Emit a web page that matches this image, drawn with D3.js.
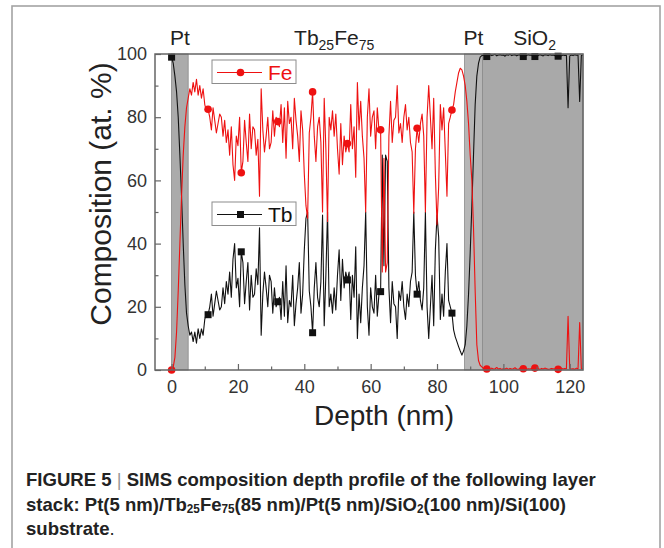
<!DOCTYPE html>
<html><head><meta charset="utf-8">
<script src="https://cdn.jsdelivr.net/npm/d3@7"></script>
<style>
body{margin:0;background:#fff}
svg{display:block}
text{font-family:"Liberation Sans",Arial,Helvetica,sans-serif}
</style>
</head><body>
<svg id="chart" width="664" height="548"></svg>
<script>
// ---------------- data ----------------
const depthStep = 0.5; // nm between successive SIMS points (depth = index * step)

const feValues = [
  0, 1, 4, 12, 25, 40, 55, 68, 77, 83,
  86, 89, 87, 91, 88, 92, 87, 90, 86, 89,
  84, 82, 82.5, 80, 76, 83, 79, 75, 78, 81,
  80, 74, 79, 72, 76, 68, 77, 65, 60, 74,
  71, 80, 62.4, 66, 79, 72, 66, 81, 70, 77,
  76, 68, 73, 55, 89, 76, 69, 74, 80, 70,
  72, 82, 74, 80, 78.6, 77, 84, 72, 83, 67,
  85, 78, 80, 70, 86, 79, 74, 66, 82, 76,
  62, 52, 48, 75, 80, 88, 74, 66, 77, 80,
  72, 50, 86, 70, 47, 80, 76, 82, 74, 81,
  70, 62, 78, 65, 74, 69, 71.7, 69, 84, 70,
  77, 61, 91, 76, 85, 74, 67, 50, 80, 89,
  74, 80, 82, 70, 83, 76, 76, 31, 67, 31,
  34, 74, 85, 72, 79, 80, 90, 75, 78, 72,
  80, 84, 76, 80, 72, 69, 49.6, 70, 76.5, 72,
  78, 81, 74, 50, 80, 90, 80, 70, 86, 62,
  46, 58, 84, 76, 83, 69, 55, 78, 80, 82.3,
  84, 88, 91, 94, 95.5, 95, 93, 90, 85, 78,
  68, 60, 45, 25, 8, 3, 1.5, 1, 0.5, 0.4,
  0.3, 0.5, 0.2, 0.6, 0.3, 0.4, 0.8, 0.3, 0.5, 0.2,
  0.4, 0.3, 0.6, 0.2, 0.5, 0.3, 0.4, 0.7, 0.3, 0.2,
  0.5, 0.3, 0.4, 0.6, 0.2, 0.4, 0.3, 0.5, 0.3, 0.6,
  0.3, 0.4, 0.2, 0.5, 0.3, 0.6, 0.4, 0.2, 0.3, 0.5,
  0.4, 0.3, 0.5, 0.2, 0.4, 0.6, 0.3, 0.5, 0.4, 17,
  0.5, 0.3, 0.4, 0.2, 0.6, 0.3, 15, 0.4, 0.3
];

const tbValues = [
  99, 97, 93, 88, 80, 68, 55, 40, 27, 18,
  14, 11, 12, 9, 12, 8.5, 13, 10, 13, 11,
  16, 18, 17.5, 20, 24, 17, 21, 25, 22, 19,
  20, 26, 21, 28, 24, 31, 23, 35, 40, 26,
  29, 20, 37.4, 34, 21, 28, 34, 19, 30, 23,
  24, 32, 27, 45, 11, 24, 31, 26, 20, 30,
  28, 18, 26, 20, 21.6, 23, 16, 28, 17, 33,
  15, 22, 20, 30, 14, 21, 26, 34, 18, 24,
  38, 48, 50, 25, 20, 11.8, 26, 34, 23, 20,
  28, 49, 14, 30, 50, 20, 24, 18, 26, 19,
  30, 38, 22, 35, 26, 31, 28.5, 31, 16, 30,
  23, 39, 10, 24, 15, 26, 33, 50, 20, 11,
  26, 20, 18, 30, 17, 24, 24.8, 68, 33, 68,
  66, 26, 15, 28, 21, 20, 10, 25, 22, 28,
  20, 16, 24, 20, 28, 31, 50, 30, 24, 28,
  22, 19, 26, 50, 20, 10, 20, 30, 14, 38,
  49, 42, 16, 24, 17, 31, 40, 22, 20, 18,
  12.7, 10.5, 9, 7.4, 6, 4.7, 6, 8, 14, 24,
  37, 52, 68, 84, 93, 97, 99, 99.5, 99.6, 99.8,
  99.2, 99.6, 99.8, 99.5, 99.7, 99.9, 99.4, 99.7, 99.8, 99.6,
  99.7, 99.3, 99.8, 99.6, 99.9, 99.5, 99.7, 99.8, 99.4, 99.7,
  99.8, 99.6, 99.2, 99.7, 99.5, 99.8, 99.6, 99.7, 99.3, 99.2,
  99.7, 99.5, 99.8, 99.6, 99.4, 99.8, 99.7, 99.5, 99.8, 99.6,
  99.7, 99.5, 99.8, 99.3, 99.6, 99.4, 99.7, 99.5, 99.6, 83,
  99.4, 99.7, 99.5, 99.8, 99.6, 99.7, 85, 99.5, 99.6
];

const markerDepths = [0, 11, 21, 32, 42.5, 53, 63, 74, 84.5, 95, 106, 109.5, 116.5];

const xTicks = [0, 20, 40, 60, 80, 100, 120];
const xMinorTicks = [10, 30, 50, 70, 90, 110];
const yTicks = [0, 20, 40, 60, 80, 100];
const yMinorTicks = [10, 30, 50, 70, 90];

const bandStarts = [0, 88.3, 93.7];
const bandEnds   = [5, 93.7, 124];
const bandKinds  = ["Pt", "Pt", "SiO2"];

const layerLabels = [
  {depth: 2.5, parts: [["Pt", false]]},
  {depth: 49, parts: [["Tb", false], ["25", true], ["Fe", false], ["75", true]]},
  {depth: 91, parts: [["Pt", false]]},
  {depth: 109.4, parts: [["SiO", false], ["2", true]]}
];

const xTitle = "Depth (nm)";
const yTitle = "Composition (at. %)";

const captionLines = [
  [["FIGURE 5 ", "b"], ["|", "bar"], [" SIMS composition depth profile of the following layer", "b"]],
  [["stack: Pt(5 nm)/Tb", "b"], ["25", "sub"], ["Fe", "b"], ["75", "sub"], ["(85 nm)/Pt(5 nm)/SiO", "b"], ["2", "sub"], ["(100 nm)/Si(100)", "b"]],
  [["substrate", "b"], [".", "n"]]
];

// ---------------- drawing ----------------
const svg = d3.select("#chart");
const W = 664, H = 548;
const plot = {left: 155, right: 583, top: 54, bottom: 370};

const x = d3.scaleLinear().domain([-5, 124]).range([plot.left, plot.right]);
const y = d3.scaleLinear().domain([0, 100]).range([plot.bottom, plot.top]);

// outer figure frame
svg.append("rect").attr("x", 12).attr("y", 6).attr("width", 648).attr("height", 570)
  .attr("fill", "none").attr("stroke", "#a3a3a3").attr("stroke-width", 1.6);

// layer bands
const bandFill = {"Pt": "#ababab", "SiO2": "#a9a9a9"};
bandStarts.forEach((s, i) => {
  svg.append("rect")
    .attr("x", x(s)).attr("y", plot.top)
    .attr("width", x(bandEnds[i]) - x(s)).attr("height", plot.bottom - plot.top)
    .attr("fill", i === 1 ? "#b6b6b6" : bandFill[bandKinds[i]])
    .attr("stroke", "#8a8a8a").attr("stroke-width", 0.8);
});

const fePts = feValues.map((v, i) => [i * depthStep, v]);
const tbPts = tbValues.map((v, i) => [i * depthStep, v]);

const line = d3.line().x(d => x(d[0])).y(d => y(d[1]));

svg.append("path").datum(tbPts).attr("d", line)
  .attr("fill", "none").attr("stroke", "#111").attr("stroke-width", 1.1).attr("stroke-linejoin", "round");
svg.append("path").datum(fePts).attr("d", line)
  .attr("fill", "none").attr("stroke", "#ee1111").attr("stroke-width", 1.1).attr("stroke-linejoin", "round");

const idx = d => Math.round(d / depthStep);
// Tb markers (squares)
svg.append("g").selectAll("rect").data(markerDepths).join("rect")
  .attr("x", d => x(idx(d) * depthStep) - 3.5)
  .attr("y", d => y(tbValues[idx(d)]) - 3.5)
  .attr("width", 7).attr("height", 7).attr("fill", "#111");
// Fe markers (circles)
svg.append("g").selectAll("circle").data(markerDepths).join("circle")
  .attr("cx", d => x(idx(d) * depthStep))
  .attr("cy", d => y(feValues[idx(d)]))
  .attr("r", 3.8).attr("fill", "#ee1111");

// axes
const axisColor = "#666";
const styleAxis = g => {
  g.select(".domain").remove();
  g.selectAll("line").attr("stroke", axisColor).attr("stroke-width", 1.2);
  g.selectAll("text").attr("fill", "#333").attr("font-size", 18)
    .attr("font-family", '"Liberation Sans", Arial, sans-serif');
};
svg.append("g").attr("transform", `translate(0,${plot.bottom})`)
  .call(d3.axisBottom(x).tickValues(xTicks).tickSize(-6).tickPadding(10).tickFormat(d3.format("d")))
  .call(styleAxis);
svg.append("g").attr("transform", `translate(0,${plot.bottom})`)
  .call(d3.axisBottom(x).tickValues(xMinorTicks).tickSize(-3.5).tickFormat(""))
  .call(styleAxis);
svg.append("g").attr("transform", `translate(${plot.left},0)`)
  .call(d3.axisLeft(y).tickValues(yTicks).tickSize(-6).tickPadding(8).tickFormat(d3.format("d")))
  .call(styleAxis);
svg.append("g").attr("transform", `translate(${plot.left},0)`)
  .call(d3.axisLeft(y).tickValues(yMinorTicks).tickSize(-3.5).tickFormat(""))
  .call(styleAxis);

// plot frame
svg.append("rect").attr("x", plot.left).attr("y", plot.top)
  .attr("width", plot.right - plot.left).attr("height", plot.bottom - plot.top)
  .attr("fill", "none").attr("stroke", axisColor).attr("stroke-width", 1.5);

// layer labels above the plot
layerLabels.forEach(L => {
  const t = svg.append("text").attr("x", x(L.depth)).attr("y", 45)
    .attr("text-anchor", "middle").attr("font-size", 21).attr("fill", "#222");
  L.parts.forEach(([s, sub]) => {
    const ts = t.append("tspan").text(s);
    if (sub) ts.attr("font-size", 14).attr("baseline-shift", "-5");
  });
});

// axis titles
svg.append("text").attr("x", 384).attr("y", 425).attr("text-anchor", "middle")
  .attr("font-size", 28).attr("fill", "#222").text(xTitle);
svg.append("text").attr("transform", "translate(111,194) rotate(-90)").attr("text-anchor", "middle")
  .attr("font-size", 30).attr("fill", "#222").text(yTitle);

// legends
function legend(x0, y0, label, color, shape) {
  const g = svg.append("g").attr("transform", `translate(${x0},${y0})`);
  g.append("rect").attr("x", 0).attr("y", 0).attr("width", 84).attr("height", 23.5)
    .attr("fill", "#fff").attr("stroke", "#8c8c8c").attr("stroke-width", 1);
  g.append("line").attr("x1", 5).attr("x2", 50).attr("y1", 12.5).attr("y2", 12.5)
    .attr("stroke", color).attr("stroke-width", 1.2);
  if (shape === "circle") g.append("circle").attr("cx", 28.5).attr("cy", 12.5).attr("r", 3.8).attr("fill", color);
  else g.append("rect").attr("x", 25).attr("y", 9).attr("width", 7).attr("height", 7).attr("fill", color);
  g.append("text").attr("x", 56).attr("y", 19.5).attr("font-size", 21).attr("fill", color).text(label);
}
legend(212, 60, "Fe", "#ee1111", "circle");
legend(212, 202, "Tb", "#111", "square");

// caption
const capX = 26, capBase = [486, 511, 535], capWidth1 = 571;
const capGroups = captionLines.map((parts, li) => {
  const g = svg.append("g");
  const t = g.append("text").attr("x", 0).attr("y", 0).attr("font-size", 19)
    .attr("font-family", '"Liberation Sans Narrow","Liberation Sans",Arial,sans-serif')
    .attr("font-weight", "bold").attr("fill", "#222");
  parts.forEach(([s, kind]) => {
    const ts = t.append("tspan").text(s);
    if (kind === "sub") ts.attr("font-size", 12).attr("baseline-shift", "-2");
    if (kind === "bar") ts.attr("font-weight", "normal").attr("fill", "#999");
    if (kind === "n") ts.attr("font-weight", "normal");
  });
  return g;
});
const w1 = capGroups[0].node().getBBox().width;
const k = capWidth1 / w1;
capGroups.forEach((g, i) => g.attr("transform", `translate(${capX},${capBase[i]}) scale(${k},1)`));
</script>
</body></html>
